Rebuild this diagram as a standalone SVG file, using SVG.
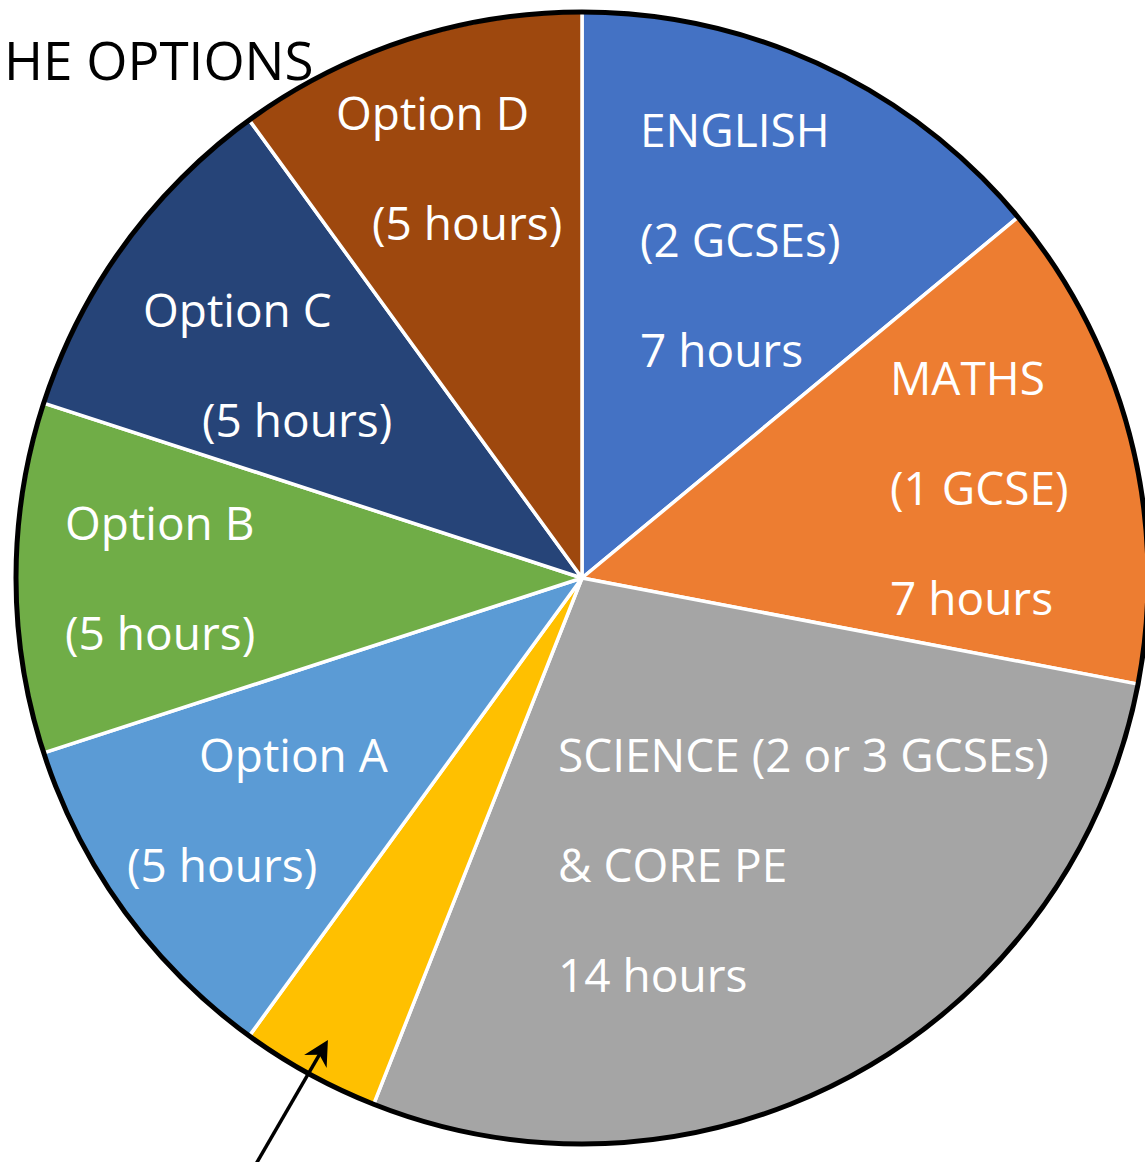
<svg xmlns="http://www.w3.org/2000/svg" width="1145" height="1162" viewBox="0 0 1145 1162">
<style>
.sl{stroke:#FFFFFF;stroke-width:3.5;stroke-linejoin:round}
.lb{font-family:"Open Sans","Noto Sans",sans-serif;font-size:46px;fill:#FFFFFF}
.ttl{font-family:"Open Sans","Noto Sans",sans-serif;font-size:53px;fill:#000000}
</style>
<defs>
<marker id="ah" markerUnits="userSpaceOnUse" markerWidth="40" markerHeight="40" viewBox="-20 -20 40 40" refX="0" refY="0" orient="auto" overflow="visible">
<path d="M10,0 L-15,-13 L-7,0 L-15,13 Z" fill="#000000"/>
</marker>
</defs>
<rect x="0" y="0" width="1145" height="1162" fill="#FFFFFF"/>
<text class="ttl" x="4" y="80">HE OPTIONS</text>
<g id="english"><path class="sl" fill="#4472C4" d="M582,578 L582,12 A566,566 0 0 1 1018.1,217.2 Z"/>
<text class="lb" x="640" y="147">ENGLISH</text><text class="lb" x="640" y="257">(2 GCSEs)</text><text class="lb" x="640" y="367">7 hours</text></g>
<g id="maths"><path class="sl" fill="#ED7D31" d="M582,578 L1018.1,217.2 A566,566 0 0 1 1138,684.1 Z"/>
<text class="lb" x="890" y="395">MATHS</text><text class="lb" x="890" y="505">(1 GCSE)</text><text class="lb" x="890" y="615">7 hours</text></g>
<g id="science"><path class="sl" fill="#A5A5A5" d="M582,578 L1138,684.1 A566,566 0 0 1 373.6,1104.3 Z"/>
<text class="lb" x="558" y="772">SCIENCE (2 or 3 GCSEs)</text><text class="lb" x="558" y="882">&amp; CORE PE</text><text class="lb" x="558" y="992">14 hours</text></g>
<g id="yellow"><path class="sl" fill="#FFC000" d="M582,578 L373.6,1104.3 A566,566 0 0 1 249.3,1035.9 Z"/></g>
<g id="optionA"><path class="sl" fill="#5B9BD5" d="M582,578 L249.3,1035.9 A566,566 0 0 1 43.7,752.9 Z"/>
<text class="lb" x="199" y="772">Option A</text><text class="lb" x="127" y="882">(5 hours)</text></g>
<g id="optionB"><path class="sl" fill="#70AD47" d="M582,578 L43.7,752.9 A566,566 0 0 1 43.7,403.1 Z"/>
<text class="lb" x="65" y="540">Option B</text><text class="lb" x="65" y="650">(5 hours)</text></g>
<g id="optionC"><path class="sl" fill="#264478" d="M582,578 L43.7,403.1 A566,566 0 0 1 249.3,120.1 Z"/>
<text class="lb" x="143" y="327">Option C</text><text class="lb" x="202" y="437">(5 hours)</text></g>
<g id="optionD"><path class="sl" fill="#9E480E" d="M582,578 L249.3,120.1 A566,566 0 0 1 582,12 Z"/>
<text class="lb" x="336" y="130">Option D</text><text class="lb" x="372" y="240">(5 hours)</text></g>
<circle cx="582" cy="578" r="566" fill="none" stroke="#000000" stroke-width="5"/>
<g id="connectors"><line x1="256" y1="1164" x2="322.9" y2="1048.6" stroke="#000000" stroke-width="3.5" marker-end="url(#ah)"/></g>
</svg>
